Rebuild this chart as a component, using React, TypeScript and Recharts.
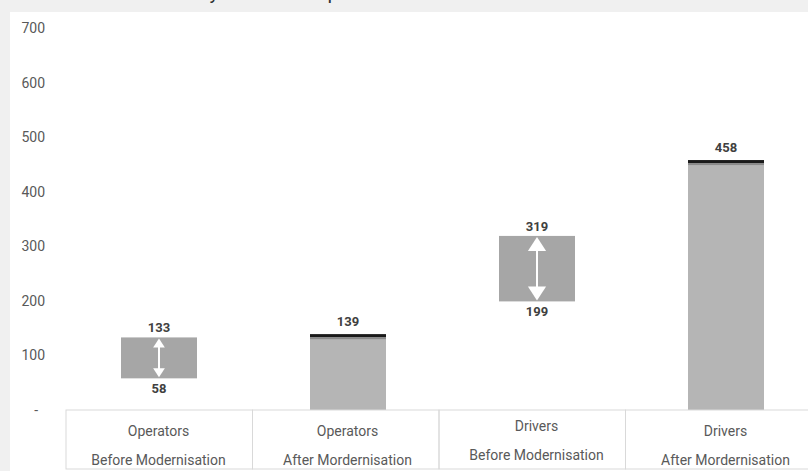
import { BarChart, Bar, XAxis, YAxis, Cell } from 'recharts'

const groups = ['Operators', 'Operators', 'Drivers', 'Drivers']
const phases = [
   'Before Modernisation',
   'After Mordernisation',
   'Before Modernisation',
   'After Mordernisation',
]
// low end of the range (null = plain bar from zero)
const lowValues = [58, null, 199, null]
const highValues = [133, 139, 319, 458]
const yTicks = [0, 100, 200, 300, 400, 500, 600, 700]

const CHART_W = 820
const CHART_H = 471
const Y_W = 64
const X_H = 61
// the table grid under the axis is a bit narrower than the bar bands
const CELL_LEFT = 66
const CELL_W = 186.5

const RANGE_FILL = '#a6a6a6'
const BAR_FILL = '#b5b5b5'
const FONT = 'Roboto, "Noto Sans", sans-serif'

const data = groups.map((g, i) => ({
   name: `${g}|${phases[i]}`,
   range: [lowValues[i] ?? 0, highValues[i]],
   low: lowValues[i],
   high: highValues[i],
   isRange: lowValues[i] !== null,
}))

function BarShape(props: any) {
   const { x, y, width, height, payload, fill } = props
   const cx = x + width / 2
   const labelStyle = { fontFamily: FONT, fontSize: 13, fontWeight: 700, fill: '#404040' }

   if (payload.isRange) {
      const headH = Math.min(14, Math.max(9, height * 0.22))
      const headW = headH * 1.3
      const top = y + 1
      const bot = y + height - 1
      return (
         <g>
            <rect x={x} y={y} width={width} height={height} fill={fill} />
            <rect x={cx - 1} y={top + headH - 1} width={2} height={bot - top - 2 * headH + 2} fill="#fff" />
            <polygon points={`${cx},${top} ${cx - headW / 2},${top + headH} ${cx + headW / 2},${top + headH}`} fill="#fff" />
            <polygon points={`${cx},${bot} ${cx - headW / 2},${bot - headH} ${cx + headW / 2},${bot - headH}`} fill="#fff" />
            <text x={cx} y={y - 5} textAnchor="middle" style={labelStyle}>{payload.high}</text>
            <text x={cx} y={y + height + 15} textAnchor="middle" style={labelStyle}>{payload.low}</text>
         </g>
      )
   }

   return (
      <g>
         <rect x={x} y={y} width={width} height={height} fill={fill} />
         <rect x={x} y={y} width={width} height={3} fill="#1a1a1a" />
         <rect x={x} y={y + 3} width={width} height={2} fill="#8a8a8a" />
         <text x={cx} y={y - 8} textAnchor="middle" style={labelStyle}>{payload.high}</text>
      </g>
   )
}

function CategoryTick(props: any) {
   const { x, y, payload, index } = props
   const [group, phase] = String(payload.value).split('|')
   const textStyle = { fontFamily: FONT, fontSize: 14, fill: '#595959' }
   const nudge = index === 2 ? -5 : 0
   return (
      <g>
         <rect
            x={CELL_LEFT + index * CELL_W}
            y={y}
            width={CELL_W}
            height={59}
            fill="none"
            stroke="#d9d9d9"
            strokeWidth={1}
         />
         <text x={x} y={y + 26 + nudge} textAnchor="middle" style={textStyle}>{group}</text>
         <text x={x} y={y + 55 + nudge} textAnchor="middle" style={textStyle}>{phase}</text>
      </g>
   )
}

function ValueTick(props: any) {
   const { x, y, payload } = props
   const zero = payload.value === 0
   return (
      <text
         x={x}
         y={y}
         dx={zero ? -7 : 0}
         dy="0.355em"
         textAnchor="end"
         style={{ fontFamily: FONT, fontSize: 14, fill: '#595959' }}
      >
         {zero ? '-' : payload.value}
      </text>
   )
}

export default function App() {
   return (
      <div
         style={{
            position: 'absolute',
            left: 0,
            top: 0,
            width: 808,
            height: 471,
            overflow: 'hidden',
            background: '#f0f0f0',
         }}
      >
         <div
            style={{
               position: 'absolute',
               left: 164,
               top: -18,
               fontFamily: FONT,
               fontSize: 20,
               lineHeight: '20px',
               color: '#333',
               whiteSpace: 'nowrap',
            }}
         >
            Salary Levels Comparison
         </div>
         <div style={{ position: 'absolute', left: 10, top: 12, right: 0, bottom: 0, background: '#fff' }} />
         <div style={{ position: 'absolute', left: 0, top: 0 }}>
            <BarChart
               width={CHART_W}
               height={CHART_H}
               data={data}
               margin={{ top: 28, right: 0, bottom: 0, left: 0 }}
               barSize={76}
            >
               <XAxis
                  dataKey="name"
                  height={X_H}
                  axisLine={false}
                  tickLine={false}
                  tickSize={0}
                  tickMargin={0}
                  interval={0}
                  tick={<CategoryTick />}
               />
               <YAxis
                  width={Y_W}
                  domain={[0, 700]}
                  ticks={yTicks}
                  axisLine={false}
                  tickLine={false}
                  tickSize={0}
                  tickMargin={19}
                  tick={<ValueTick />}
               />
               <Bar dataKey="range" shape={<BarShape />} isAnimationActive={false}>
                  {data.map((d, i) => (
                     <Cell key={i} fill={d.isRange ? RANGE_FILL : BAR_FILL} />
                  ))}
               </Bar>
            </BarChart>
         </div>
      </div>
   )
}
